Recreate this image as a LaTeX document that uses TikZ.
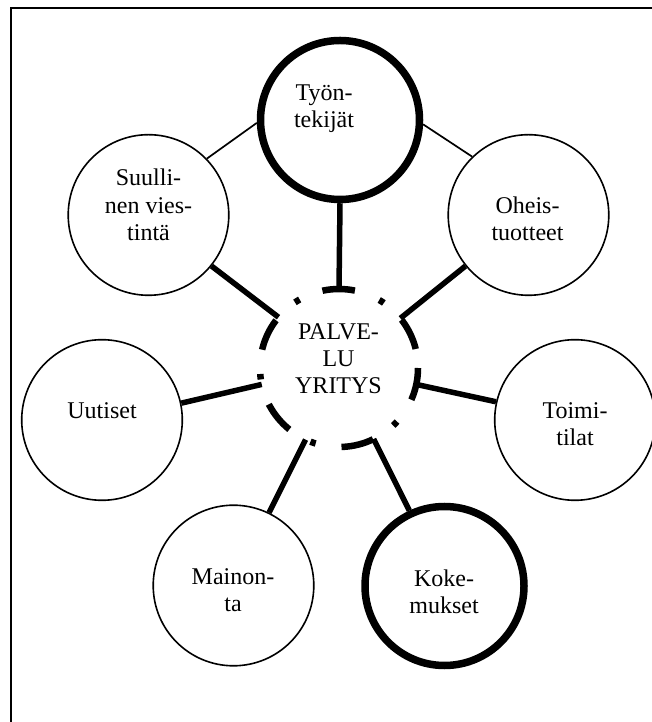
\documentclass[tikz,border=0pt]{standalone}
\usepackage{fontspec}
\setmainfont{Liberation Serif}
\begin{document}
\begin{tikzpicture}[x=1pt,y=1pt,
  bubble/.style={circle, draw, line width=1.6pt, minimum size=160.6pt, inner sep=0pt},
  keybubble/.style={circle, draw, line width=7.5pt, minimum size=159pt, inner sep=0pt},
  hub/.style={circle, minimum size=158pt, inner sep=0pt, outer sep=0pt},
  % multi-line texts are placed by the baseline of their last line
  bubbletext/.style={font=\fontsize{24}{27.4}\selectfont, align=center, anchor=base, inner sep=0pt},
  thinlink/.style={line width=1.7pt},
  thicklink/.style={line width=5.5pt},
  hubring/.style={line width=6.5pt, dash pattern=on 32.7pt off 26.2pt on 5.5pt off 24.5pt},
  frameline/.style={line width=2.2pt}
]
\useasboundingbox (0,0) rectangle (652,722);

% frame (top and left edges)
\draw[frameline] (11.2,-3) -- (11.2,714.3) -- (655,714.3);

% circles
\node[keybubble] (tyo) at (340,602) {};
\node[bubble] (suu) at (148.5,507) {};
\node[bubble] (ohe) at (528.5,507) {};
\node[bubble] (uut) at (102,302) {};
\node[bubble] (toi) at (575,302) {};
\node[bubble] (mai) at (233.5,136.5) {};
\node[keybubble] (kok) at (444.5,136) {};
\node[hub] (c) at (339,354) {};

% dash-dotted ring around the hub, starting at its rightmost point, clockwise
\draw[hubring] ([shift={(0:79pt)}]c.center) arc[start angle=0, end angle=-360, radius=79pt];

% texts
\node[bubbletext] (tyo-t) at (324,594) {Työn-\\tekijät};
\node[bubbletext] (suu-t) at (148.5,481.3) {Suulli-\\nen vies-\\tintä};
\node[bubbletext] (ohe-t) at (527.5,481.3) {Oheis-\\tuotteet};
\node[bubbletext] (uut-t) at (102,303) {Uutiset};
\node[bubbletext] (toi-t) at (575,276) {Toimi-\\tilat};
\node[bubbletext] (mai-t) at (233,110.3) {Mainon-\\ta};
\node[bubbletext] (kok-t) at (444,108) {Koke-\\mukset};
\node[bubbletext] (c-t) at (338.5,328) {PALVE-\\LU\\YRITYS};

% links between the outer circles
\draw[thinlink] (suu.44) -- (tyo.182);
\draw[thinlink] (ohe.134) -- (tyo.-3);

% links to the hub
\draw[thicklink] (tyo.270) -- (c.90);
\draw[thicklink] (suu.-39) -- (c.140);
\draw[thicklink] (ohe.219) -- (c.39);
\draw[thicklink] (uut.12) -- (c.192);
\draw[thicklink] (toi.167) -- (c.-12);
\draw[thicklink] (mai.64) -- (c.245);
\draw[thicklink] (kok.115) -- (c.-64);
\end{tikzpicture}
\end{document}
